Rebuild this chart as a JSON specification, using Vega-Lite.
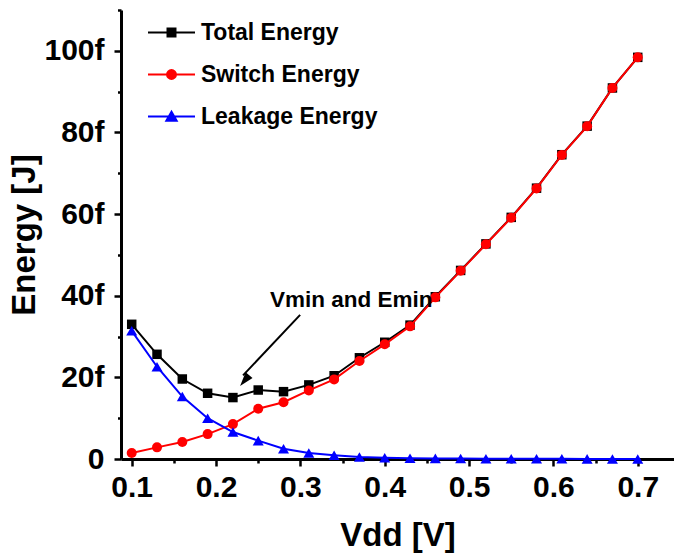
{
  "$schema": "https://vega.github.io/schema/vega-lite/v6.json",
  "width": 553,
  "height": 449,
  "autosize": "none",
  "padding": {"left": 121, "top": 10, "right": 0, "bottom": 95},
  "background": "white",
  "config": {
    "view": {"stroke": null},
    "font": "Liberation Sans",
    "axis": {
      "domainColor": "black",
      "domainWidth": 3,
      "tickColor": "black",
      "tickWidth": 2.5,
      "grid": false,
      "labelFont": "Liberation Sans",
      "labelFontSize": 30,
      "labelFontWeight": "bold",
      "labelColor": "black",
      "labelOverlap": false,
      "labelBound": false,
      "labelFlush": false,
      "titleFont": "Liberation Sans",
      "titleFontSize": 33,
      "titleFontWeight": "bold",
      "titleColor": "black"
    }
  },
  "datasets": {
    "energy": [
      {"vdd": 0.10, "series": "Total Energy", "energy": 33.0},
      {"vdd": 0.13, "series": "Total Energy", "energy": 25.65},
      {"vdd": 0.16, "series": "Total Energy", "energy": 19.6},
      {"vdd": 0.19, "series": "Total Energy", "energy": 16.1},
      {"vdd": 0.22, "series": "Total Energy", "energy": 15.05},
      {"vdd": 0.25, "series": "Total Energy", "energy": 16.9},
      {"vdd": 0.28, "series": "Total Energy", "energy": 16.5},
      {"vdd": 0.31, "series": "Total Energy", "energy": 18.15},
      {"vdd": 0.34, "series": "Total Energy", "energy": 20.4},
      {"vdd": 0.37, "series": "Total Energy", "energy": 24.8},
      {"vdd": 0.40, "series": "Total Energy", "energy": 28.6},
      {"vdd": 0.43, "series": "Total Energy", "energy": 32.8},
      {"vdd": 0.46, "series": "Total Energy", "energy": 39.75},
      {"vdd": 0.49, "series": "Total Energy", "energy": 46.2},
      {"vdd": 0.52, "series": "Total Energy", "energy": 52.7},
      {"vdd": 0.55, "series": "Total Energy", "energy": 59.2},
      {"vdd": 0.58, "series": "Total Energy", "energy": 66.35},
      {"vdd": 0.61, "series": "Total Energy", "energy": 74.55},
      {"vdd": 0.64, "series": "Total Energy", "energy": 81.55},
      {"vdd": 0.67, "series": "Total Energy", "energy": 90.9},
      {"vdd": 0.70, "series": "Total Energy", "energy": 98.4},
      {"vdd": 0.10, "series": "Switch Energy", "energy": 1.45},
      {"vdd": 0.13, "series": "Switch Energy", "energy": 2.85},
      {"vdd": 0.16, "series": "Switch Energy", "energy": 4.15},
      {"vdd": 0.19, "series": "Switch Energy", "energy": 6.1},
      {"vdd": 0.22, "series": "Switch Energy", "energy": 8.55},
      {"vdd": 0.25, "series": "Switch Energy", "energy": 12.3},
      {"vdd": 0.28, "series": "Switch Energy", "energy": 13.9},
      {"vdd": 0.31, "series": "Switch Energy", "energy": 16.8},
      {"vdd": 0.34, "series": "Switch Energy", "energy": 19.5},
      {"vdd": 0.37, "series": "Switch Energy", "energy": 24.0},
      {"vdd": 0.40, "series": "Switch Energy", "energy": 28.1},
      {"vdd": 0.43, "series": "Switch Energy", "energy": 32.5},
      {"vdd": 0.46, "series": "Switch Energy", "energy": 39.6},
      {"vdd": 0.49, "series": "Switch Energy", "energy": 46.1},
      {"vdd": 0.52, "series": "Switch Energy", "energy": 52.6},
      {"vdd": 0.55, "series": "Switch Energy", "energy": 59.1},
      {"vdd": 0.58, "series": "Switch Energy", "energy": 66.3},
      {"vdd": 0.61, "series": "Switch Energy", "energy": 74.5},
      {"vdd": 0.64, "series": "Switch Energy", "energy": 81.5},
      {"vdd": 0.67, "series": "Switch Energy", "energy": 90.9},
      {"vdd": 0.70, "series": "Switch Energy", "energy": 98.4},
      {"vdd": 0.10, "series": "Leakage Energy", "energy": 31.4},
      {"vdd": 0.13, "series": "Leakage Energy", "energy": 22.6},
      {"vdd": 0.16, "series": "Leakage Energy", "energy": 15.3},
      {"vdd": 0.19, "series": "Leakage Energy", "energy": 10.0},
      {"vdd": 0.22, "series": "Leakage Energy", "energy": 6.6},
      {"vdd": 0.25, "series": "Leakage Energy", "energy": 4.5},
      {"vdd": 0.28, "series": "Leakage Energy", "energy": 2.5},
      {"vdd": 0.31, "series": "Leakage Energy", "energy": 1.45},
      {"vdd": 0.34, "series": "Leakage Energy", "energy": 0.9},
      {"vdd": 0.37, "series": "Leakage Energy", "energy": 0.5},
      {"vdd": 0.40, "series": "Leakage Energy", "energy": 0.3},
      {"vdd": 0.43, "series": "Leakage Energy", "energy": 0.2},
      {"vdd": 0.46, "series": "Leakage Energy", "energy": 0.15},
      {"vdd": 0.49, "series": "Leakage Energy", "energy": 0.1},
      {"vdd": 0.52, "series": "Leakage Energy", "energy": 0.08},
      {"vdd": 0.55, "series": "Leakage Energy", "energy": 0.06},
      {"vdd": 0.58, "series": "Leakage Energy", "energy": 0.05},
      {"vdd": 0.61, "series": "Leakage Energy", "energy": 0.04},
      {"vdd": 0.64, "series": "Leakage Energy", "energy": 0.03},
      {"vdd": 0.67, "series": "Leakage Energy", "energy": 0.02},
      {"vdd": 0.70, "series": "Leakage Energy", "energy": 0.02}
    ],
    "note": [
      {"vdd": 0.264, "energy": 37.3, "label": "Vmin and Emin", "vdd2": 0.232, "energy2": 20.5, "tipVdd": 0.2285, "tipEnergy": 17.9}
    ]
  },
  "encoding": {
    "x": {
      "field": "vdd", "type": "quantitative",
      "scale": {"domain": [0.0873, 0.743], "nice": false, "zero": false},
      "axis": {
        "title": "Vdd [V]",
        "values": [0.1, 0.15, 0.2, 0.25, 0.3, 0.35, 0.4, 0.45, 0.5, 0.55, 0.6, 0.65, 0.7],
        "labelExpr": "abs(datum.value * 10 - round(datum.value * 10)) < 0.01 ? format(datum.value, '.1f') : ''",
        "tickSize": {"condition": {"test": "abs(datum.value * 10 - round(datum.value * 10)) < 0.01", "value": 7}, "value": 4},
        "labelPadding": 6,
        "titlePadding": 17
      }
    },
    "y": {
      "field": "energy", "type": "quantitative",
      "scale": {"domain": [0, 110], "nice": false},
      "axis": {
        "title": "Energy [J]",
        "values": [0, 10, 20, 30, 40, 50, 60, 70, 80, 90, 100, 110],
        "labelExpr": "datum.value % 20 == 0 ? (datum.value == 0 ? '0' : datum.value + 'f') : ''",
        "tickSize": {"condition": {"test": "datum.value % 20 == 0", "value": 7}, "value": 3.5},
        "labelPadding": 10,
        "titlePadding": 2
      }
    }
  },
  "layer": [
    {
      "data": {"name": "energy"},
      "transform": [{"filter": "datum.series == 'Total Energy'"}],
      "mark": {"type": "line", "strokeWidth": 2},
      "encoding": {
        "color": {
          "field": "series", "type": "nominal",
          "scale": {"domain": ["Total Energy", "Switch Energy", "Leakage Energy"], "range": ["#000000", "#ff0000", "#0000ff"]},
          "legend": {
            "title": null,
            "orient": "none",
            "legendX": 26,
            "legendY": -2,
            "padding": 0,
            "symbolSize": 2209,
            "symbolStrokeWidth": 2,
            "labelFont": "Liberation Sans",
            "labelFontSize": 23,
            "labelFontWeight": "bold",
            "labelColor": "black",
            "labelLimit": 400,
            "labelOffset": 5,
            "rowPadding": 5,
            "encode": {
              "symbols": {
                "update": {
                  "shape": {"signal": "datum.value === 'Total Energy' ? 'M-1,0H1M-0.17,-0.17H0.17V0.17H-0.17Z' : datum.value === 'Switch Energy' ? 'M-1,0H1M-0.19,0A0.19,0.19,0,1,0,0.19,0A0.19,0.19,0,1,0,-0.19,0Z' : 'M-1,0H1M0,-0.2L0.22,0.18L-0.22,0.18Z'"},
                  "fill": {"scale": "color", "field": "value"},
                  "stroke": {"scale": "color", "field": "value"},
                  "opacity": {"value": 1}
                }
              }
            }
          }
        }
      }
    },
    {
      "data": {"name": "energy"},
      "transform": [{"filter": "datum.series == 'Total Energy'"}],
      "mark": {"type": "point", "shape": "square", "filled": true, "size": 90, "opacity": 1},
      "encoding": {"color": {"field": "series", "type": "nominal"}}
    },
    {
      "data": {"name": "energy"},
      "transform": [{"filter": "datum.series == 'Switch Energy'"}],
      "mark": {"type": "line", "strokeWidth": 2},
      "encoding": {"color": {"field": "series", "type": "nominal"}}
    },
    {
      "data": {"name": "energy"},
      "transform": [{"filter": "datum.series == 'Switch Energy'"}],
      "mark": {"type": "point", "shape": "circle", "filled": true, "size": 100, "opacity": 1},
      "encoding": {"color": {"field": "series", "type": "nominal"}}
    },
    {
      "data": {"name": "energy"},
      "transform": [{"filter": "datum.series == 'Leakage Energy'"}],
      "mark": {"type": "line", "strokeWidth": 2},
      "encoding": {"color": {"field": "series", "type": "nominal"}}
    },
    {
      "data": {"name": "energy"},
      "transform": [{"filter": "datum.series == 'Leakage Energy'"}],
      "mark": {"type": "point", "shape": "triangle-up", "filled": true, "size": 121, "opacity": 1},
      "encoding": {"color": {"field": "series", "type": "nominal"}}
    },
    {
      "data": {"name": "note"},
      "mark": {"type": "text", "align": "left", "baseline": "alphabetic", "font": "Liberation Sans", "fontSize": 22.5, "fontWeight": "bold", "color": "black"},
      "encoding": {"text": {"field": "label"}}
    },
    {
      "data": {"name": "note"},
      "mark": {"type": "rule", "color": "black", "strokeWidth": 2},
      "encoding": {
        "x": {"datum": 0.2997},
        "y": {"datum": 35.3},
        "x2": {"field": "vdd2"},
        "y2": {"field": "energy2"}
      }
    },
    {
      "data": {"name": "note"},
      "mark": {"type": "point", "shape": "M0,0L0.9,2.8L-0.9,2.8Z", "size": 100, "filled": true, "color": "black", "opacity": 1, "angle": 220},
      "encoding": {
        "x": {"field": "tipVdd", "type": "quantitative"},
        "y": {"field": "tipEnergy", "type": "quantitative"}
      }
    }
  ]
}
